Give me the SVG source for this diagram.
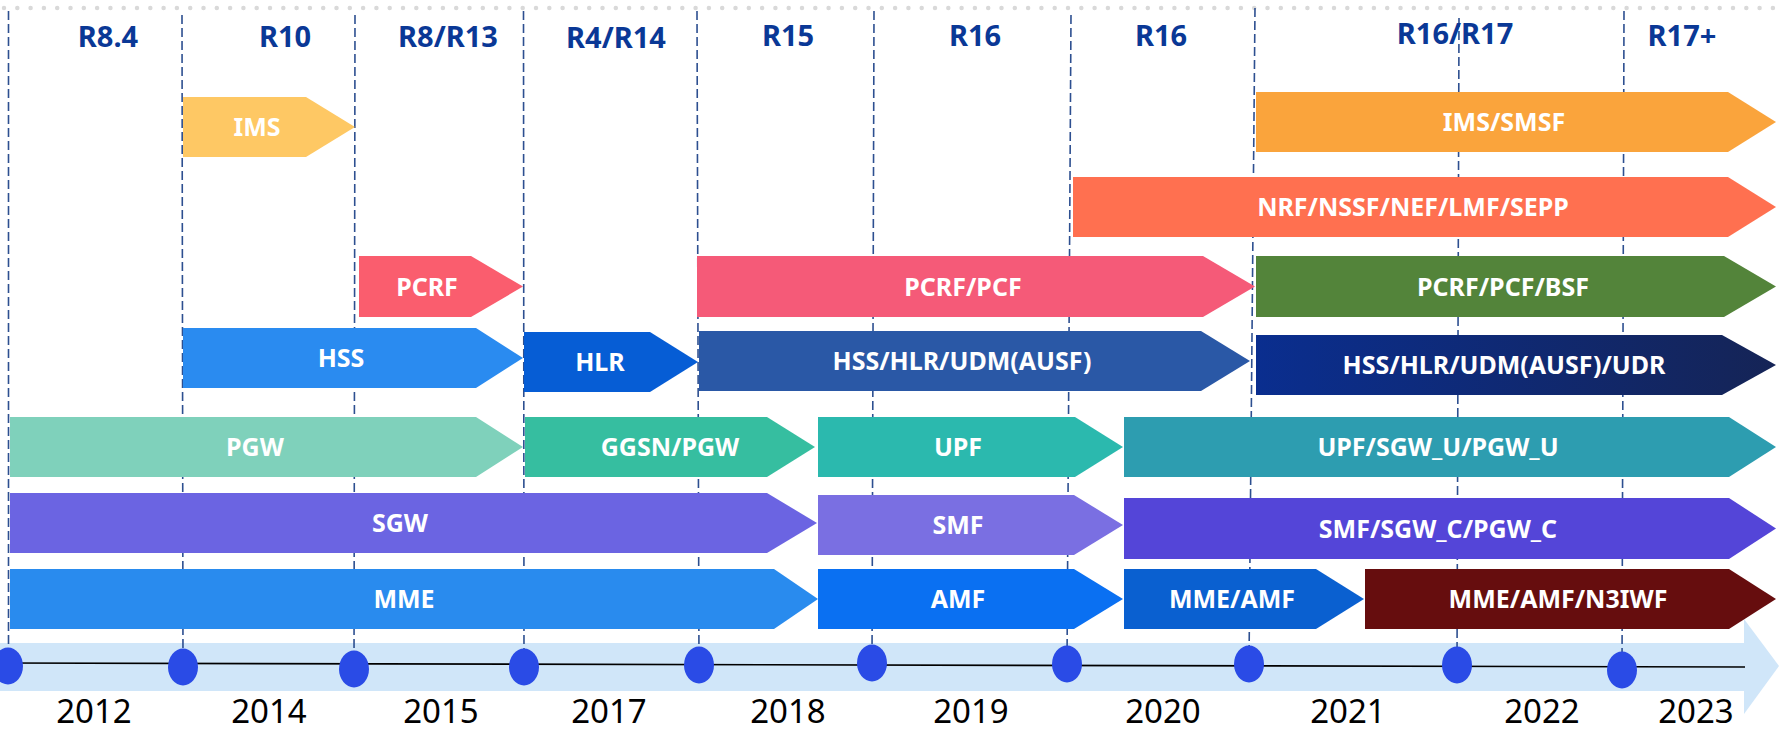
<svg xmlns="http://www.w3.org/2000/svg" width="1779" height="729" viewBox="0 0 1779 729">
<style>
.rel{font-family:"Noto Sans","Open Sans","Liberation Sans",sans-serif;font-weight:bold;font-size:29px;fill:#0a3896;text-anchor:middle}
.yr{font-family:"Noto Sans","Open Sans","Liberation Sans",sans-serif;font-size:33px;fill:#000;text-anchor:middle}
.lb{font-family:"Noto Sans","Open Sans","Liberation Sans",sans-serif;font-weight:bold;font-size:25px;fill:#fff;text-anchor:middle}
.vd{stroke:#2d4f90;stroke-width:1.6;stroke-dasharray:9 4;fill:none}
.dot{fill:#2a4be6}
</style>
<defs>
<linearGradient id="gUdr" x1="0" y1="0" x2="1" y2="0">
<stop offset="0" stop-color="#0a2e8f"/>
<stop offset="1" stop-color="#152456"/>
</linearGradient>
</defs>
<rect width="1779" height="729" fill="#fff"/>
<line x1="4" y1="8" x2="1779" y2="8" stroke="#d9d9d9" stroke-width="4.5" stroke-linecap="round" stroke-dasharray="0 13.3"/>
<g id="timeline">
<rect x="0" y="643" width="1745" height="48" fill="#d0e6f9"/>
<polygon points="1744,619 1779,666 1744,714" fill="#d0e6f9"/>
</g>
<g id="gridlines">
<line class="vd" x1="8.5" y1="11" x2="8.5" y2="666"/>
<line class="vd" x1="182" y1="15" x2="183" y2="667"/>
<line class="vd" x1="355" y1="15" x2="354" y2="669"/>
<line class="vd" x1="523.5" y1="11" x2="524" y2="667"/>
<line class="vd" x1="697" y1="11" x2="699" y2="665"/>
<line class="vd" x1="874" y1="11" x2="872" y2="663"/>
<line class="vd" x1="1071" y1="15" x2="1067" y2="664"/>
<line class="vd" x1="1255" y1="8" x2="1249" y2="664"/>
<line class="vd" x1="1459" y1="18" x2="1457" y2="665"/>
<line class="vd" x1="1624" y1="11" x2="1622" y2="670"/>
</g>
<g id="releases">
<text class="rel" x="108" y="47">R8.4</text>
<text class="rel" x="285" y="47">R10</text>
<text class="rel" x="448" y="47">R8/R13</text>
<text class="rel" x="616" y="48">R4/R14</text>
<text class="rel" x="788" y="46">R15</text>
<text class="rel" x="975" y="46">R16</text>
<text class="rel" x="1161" y="46">R16</text>
<text class="rel" x="1455" y="44">R16/R17</text>
<text class="rel" x="1682" y="46">R17+</text>
</g>
<g id="n-ims"><polygon points="183,97 306,97 355,127 306,157 183,157" fill="#fec864"/><text class="lb" x="257" y="136">IMS</text></g>
<g id="n-ims-smsf"><polygon points="1256,92 1728,92 1776,122 1728,152 1256,152" fill="#faa43c"/><text class="lb" x="1504" y="131">IMS/SMSF</text></g>
<g id="n-nrf"><polygon points="1073,177 1728,177 1776,207 1728,237 1073,237" fill="#ff7050"/><text class="lb" x="1413" y="216">NRF/NSSF/NEF/LMF/SEPP</text></g>
<g id="n-pcrf"><polygon points="359,256 471,256 523,286.5 471,317 359,317" fill="#fa5d6e"/><text class="lb" x="427" y="295.5">PCRF</text></g>
<g id="n-pcrf-pcf"><polygon points="697,256 1203,256 1255,286.5 1203,317 697,317" fill="#f55a78"/><text class="lb" x="963" y="295.5">PCRF/PCF</text></g>
<g id="n-pcrf-pcf-bsf"><polygon points="1256,256 1724,256 1776,286.5 1724,317 1256,317" fill="#53843a"/><text class="lb" x="1503" y="295.5">PCRF/PCF/BSF</text></g>
<g id="n-hss"><polygon points="183,328 476,328 523,358 476,388 183,388" fill="#2a8bf0"/><text class="lb" x="341" y="367">HSS</text></g>
<g id="n-hlr"><polygon points="524,332 650,332 698,362 650,392 524,392" fill="#065dd5"/><text class="lb" x="600" y="371">HLR</text></g>
<g id="n-hss-hlr-udm"><polygon points="699,331 1201,331 1250,361 1201,391 699,391" fill="#2a58a6"/><text class="lb" x="962" y="370">HSS/HLR/UDM(AUSF)</text></g>
<g id="n-udr"><polygon points="1256,335 1722,335 1776,365 1722,395 1256,395" fill="url(#gUdr)"/><text class="lb" x="1504" y="374">HSS/HLR/UDM(AUSF)/UDR</text></g>
<g id="n-pgw"><polygon points="10,417 476,417 523,447 476,477 10,477" fill="#7fd1bb"/><text class="lb" x="255" y="456">PGW</text></g>
<g id="n-ggsn"><polygon points="525,417 767,417 815,447 767,477 525,477" fill="#36bea0"/><text class="lb" x="670" y="456">GGSN/PGW</text></g>
<g id="n-upf"><polygon points="818,417 1075,417 1123,447 1075,477 818,477" fill="#2bb9ae"/><text class="lb" x="958" y="456">UPF</text></g>
<g id="n-upf-sgwu"><polygon points="1124,417 1729,417 1776,447 1729,477 1124,477" fill="#2d9db0"/><text class="lb" x="1438" y="456">UPF/SGW_U/PGW_U</text></g>
<g id="n-sgw"><polygon points="10,493 767,493 817,523 767,553 10,553" fill="#6b64e2"/><text class="lb" x="400" y="532">SGW</text></g>
<g id="n-smf"><polygon points="818,495 1074,495 1123,525 1074,555 818,555" fill="#7a6fe2"/><text class="lb" x="958" y="534">SMF</text></g>
<g id="n-smf-sgwc"><polygon points="1124,498 1729,498 1776,528.5 1729,559 1124,559" fill="#5445d8"/><text class="lb" x="1438" y="537.5">SMF/SGW_C/PGW_C</text></g>
<g id="n-mme"><polygon points="10,569 774,569 818,599 774,629 10,629" fill="#298bee"/><text class="lb" x="404" y="608">MME</text></g>
<g id="n-amf"><polygon points="818,569 1074,569 1123,599 1074,629 818,629" fill="#0a70f2"/><text class="lb" x="958" y="608">AMF</text></g>
<g id="n-mme-amf"><polygon points="1124,569 1316,569 1364,599 1316,629 1124,629" fill="#0a60d0"/><text class="lb" x="1232" y="608">MME/AMF</text></g>
<g id="n-n3iwf"><polygon points="1365,569 1729,569 1776,599 1729,629 1365,629" fill="#660d0e"/><text class="lb" x="1558" y="608">MME/AMF/N3IWF</text></g>
<g id="axis">
<line x1="0" y1="663" x2="1745" y2="667" stroke="#000" stroke-width="1.6"/>
<ellipse class="dot" cx="8" cy="666" rx="15" ry="18.5"/>
<ellipse class="dot" cx="183" cy="667" rx="15" ry="18.5"/>
<ellipse class="dot" cx="354" cy="669" rx="15" ry="18.5"/>
<ellipse class="dot" cx="524" cy="667" rx="15" ry="18.5"/>
<ellipse class="dot" cx="699" cy="665" rx="15" ry="18.5"/>
<ellipse class="dot" cx="872" cy="663" rx="15" ry="18.5"/>
<ellipse class="dot" cx="1067" cy="664" rx="15" ry="18.5"/>
<ellipse class="dot" cx="1249" cy="664" rx="15" ry="18.5"/>
<ellipse class="dot" cx="1457" cy="665" rx="15" ry="18.5"/>
<ellipse class="dot" cx="1622" cy="670" rx="15" ry="18.5"/>
</g>
<g id="years">
<text class="yr" x="94" y="723">2012</text>
<text class="yr" x="269" y="723">2014</text>
<text class="yr" x="441" y="723">2015</text>
<text class="yr" x="609" y="723">2017</text>
<text class="yr" x="788" y="723">2018</text>
<text class="yr" x="971" y="723">2019</text>
<text class="yr" x="1163" y="723">2020</text>
<text class="yr" x="1348" y="723">2021</text>
<text class="yr" x="1542" y="723">2022</text>
<text class="yr" x="1696" y="723">2023</text>
</g>
</svg>
